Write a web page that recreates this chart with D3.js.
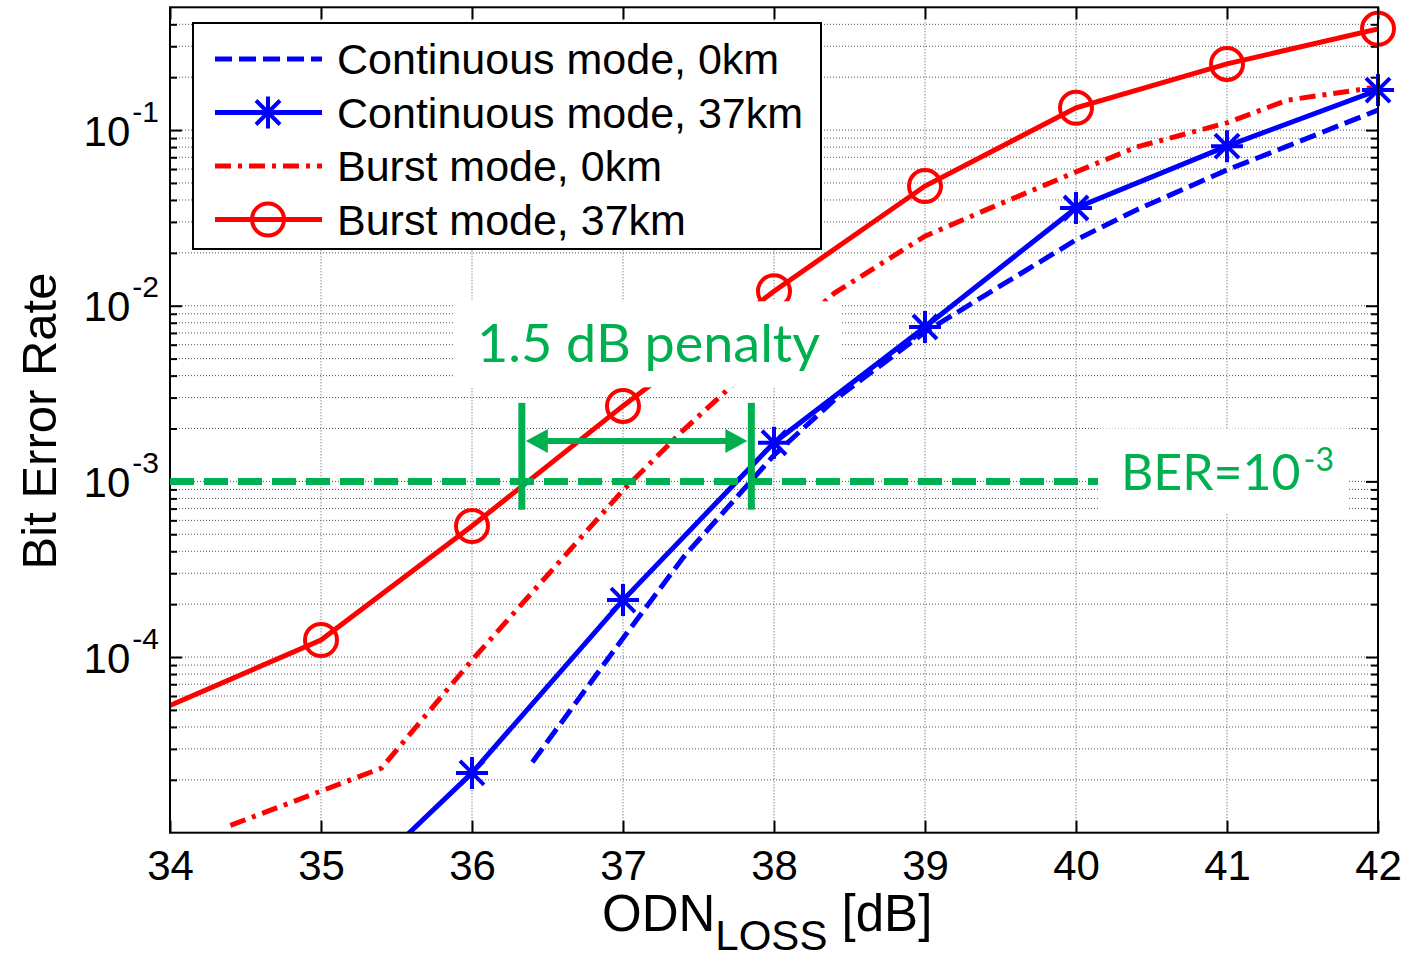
<!DOCTYPE html>
<html>
<head>
<meta charset="utf-8">
<script src="https://cdn.jsdelivr.net/npm/d3@7/dist/d3.min.js"></script>
<style>
  body { margin: 0; background: #fff; }
  svg { display: block; }
</style>
</head>
<body>
<svg id="chart" width="1407" height="961"></svg>
<script>
var contX0 = [36.4, 37, 37.4, 38, 38.4, 39, 39.4, 40, 40.4, 41, 41.4, 42];
var contY0 = [2.52e-5, 1.28e-4, 3.7e-4, 1.41e-3, 2.91e-3, 7.08e-3, 1.15e-2, 2.37e-2, 3.51e-2, 5.93e-2, 8.1e-2, 0.130];

var contX37 = [35, 36, 37, 38, 39, 40, 41, 42];
var contY37 = [3.3e-6, 2.19e-5, 2.11e-4, 1.66e-3, 7.57e-3, 0.036, 0.081, 0.169];

var burstX0 = [34.4, 35.4, 36, 36.4, 37, 37.4, 38, 38.4, 39, 39.4, 40, 40.4, 41, 41.4, 42];
var burstY0 = [1.1e-5, 2.33e-5, 9.6e-5, 2.34e-4, 8.9e-4, 1.96e-3, 5.8e-3, 1.18e-2, 2.49e-2, 3.5e-2, 5.78e-2, 8.0e-2, 0.11, 0.148, 0.176];

var burstX37 = [34, 35, 36, 37, 38, 39, 40, 41, 42];
var burstY37 = [5.3e-5, 1.25e-4, 5.57e-4, 2.69e-3, 1.21e-2, 0.048, 0.134, 0.238, 0.377];

var seriesNames = ["Continuous mode, 0km", "Continuous mode, 37km", "Burst mode, 0km", "Burst mode, 37km"];

var xTicks = [34, 35, 36, 37, 38, 39, 40, 41, 42];
var yTickExps = [-1, -2, -3, -4];

// penalty annotation (dB positions of the two bars, BER span of bars / arrow)
var penaltyX = [36.33, 37.85];
var penaltyBarY = [6.9e-4, 2.8e-3];
var penaltyArrowY = 1.7e-3;
var berLevel = 1e-3;

var W = 1407, H = 961;
var margin = { top: 7.3, right: 29, bottom: 128.3, left: 170 };
var innerW = W - margin.left - margin.right;
var innerH = H - margin.top - margin.bottom;

var GREEN = "#00B050";
var svg = d3.select("#chart");

var x = d3.scaleLinear().domain([34, 42]).range([0, innerW]);
var y = d3.scaleLog().domain([1e-5, 0.5]).range([innerH, 0]);

var g = svg.append("g").attr("transform", "translate(" + margin.left + "," + margin.top + ")");

g.append("defs").append("clipPath").attr("id", "clip")
  .append("rect").attr("width", innerW).attr("height", innerH);

// minor / major log ticks
var majorY = [], minorY = [];
for (var e = -5; e <= -1; e++) {
  for (var m = 1; m <= 9; m++) {
    var v = m * Math.pow(10, e);
    if (v <= 1e-5 || v >= 0.5) continue;
    if (m == 1) majorY.push(v); else minorY.push(v);
  }
}

// grid
var grid = g.append("g").attr("stroke", "#555").attr("stroke-width", 1).attr("stroke-dasharray", "1,2");
grid.selectAll("line.gx").data(xTicks.slice(1, -1)).enter().append("line")
  .attr("x1", d => x(d)).attr("x2", d => x(d)).attr("y1", 0).attr("y2", innerH);
grid.selectAll("line.gy").data(majorY.concat(minorY)).enter().append("line")
  .attr("x1", 0).attr("x2", innerW).attr("y1", d => y(d)).attr("y2", d => y(d));

// axes (ticks inside, box on)
var fontMain = "'Liberation Sans', Arial, sans-serif";

var xAxis = g.append("g").attr("transform", "translate(0," + innerH + ")")
  .call(d3.axisBottom(x).tickValues(xTicks).tickSize(-12).tickPadding(17).tickFormat(d3.format("d")));
g.append("g").call(d3.axisTop(x).tickValues(xTicks).tickSize(-12).tickFormat(""));

var yAxis = g.append("g").call(d3.axisLeft(y).tickValues(yTickExps.map(d => Math.pow(10, d))).tickSize(-12).tickPadding(7));
g.append("g").call(d3.axisLeft(y).tickValues(minorY).tickSize(-7).tickFormat(""));
g.append("g").attr("transform", "translate(" + innerW + ",0)")
  .call(d3.axisRight(y).tickValues(majorY).tickSize(-12).tickFormat(""));
g.append("g").attr("transform", "translate(" + innerW + ",0)")
  .call(d3.axisRight(y).tickValues(minorY).tickSize(-7).tickFormat(""));

g.selectAll(".domain").remove();
g.selectAll(".tick line").attr("stroke", "#000").attr("stroke-width", 2);

xAxis.selectAll("text").attr("font-family", fontMain).attr("font-size", 42).attr("fill", "#000");

yAxis.selectAll("text").each(function (d) {
  var t = d3.select(this);
  var ex = Math.round(Math.log10(d));
  t.text(null).attr("font-family", fontMain).attr("font-size", 42).attr("fill", "#000")
    .attr("dy", 15).attr("x", -11);
  t.append("tspan").text("10");
  t.append("tspan").attr("font-size", 30).attr("dy", -24).attr("dx", 2).text(ex);
});

// data lines
var line = d3.line().x(d => x(d[0])).y(d => y(d[1]));
var plot = g.append("g").attr("clip-path", "url(#clip)");

var series = [
  { xs: contX0, ys: contY0, color: "#0000FF", dash: "17,7", marker: null },
  { xs: contX37, ys: contY37, color: "#0000FF", dash: null, marker: "star" },
  { xs: burstX0, ys: burstY0, color: "#FF0000", dash: "16,7,4,7", marker: null },
  { xs: burstX37, ys: burstY37, color: "#FF0000", dash: null, marker: "circle" }
];

function drawMarker(sel, type, color) {
  if (type == "circle") {
    sel.append("circle").attr("r", 16).attr("fill", "none").attr("stroke", color).attr("stroke-width", 4);
  } else if (type == "star") {
    var s = 16, a = 12;
    sel.append("path")
      .attr("d", "M" + (-s) + ",0H" + s + "M0," + (-s) + "V" + s +
        "M" + (-a) + "," + (-a) + "L" + a + "," + a + "M" + (-a) + "," + a + "L" + a + "," + (-a))
      .attr("fill", "none").attr("stroke", color).attr("stroke-width", 4);
  }
}

series.forEach(function (s) {
  var pts = s.xs.map((xv, i) => [xv, s.ys[i]]);
  plot.append("path").datum(pts)
    .attr("d", line)
    .attr("fill", "none")
    .attr("stroke", s.color)
    .attr("stroke-width", 5)
    .attr("stroke-dasharray", s.dash);
  if (s.marker) {
    pts.filter(p => p[0] > 34 && p[1] >= 1e-5).forEach(function (p) {
      var mg = g.append("g").attr("transform", "translate(" + x(p[0]) + "," + y(p[1]) + ")");
      drawMarker(mg, s.marker, s.color);
    });
  }
});

// plot frame
g.append("rect").attr("width", innerW).attr("height", innerH)
  .attr("fill", "none").attr("stroke", "#000").attr("stroke-width", 2);

// legend
var leg = svg.append("g").attr("transform", "translate(193,23)");
leg.append("rect").attr("width", 628).attr("height", 226)
  .attr("fill", "#fff").attr("stroke", "#000").attr("stroke-width", 2);
series.forEach(function (s, i) {
  var cy = 36 + i * 53.5;
  var row = leg.append("g").attr("transform", "translate(0," + cy + ")");
  row.append("line").attr("x1", 22).attr("x2", 129).attr("y1", 0).attr("y2", 0)
    .attr("stroke", s.color).attr("stroke-width", 5).attr("stroke-dasharray", s.dash);
  if (s.marker) drawMarker(row.append("g").attr("transform", "translate(75,0)"), s.marker, s.color);
  row.append("text").attr("x", 144).attr("y", 15)
    .attr("font-family", fontMain).attr("font-size", 43).attr("fill", "#000")
    .text(seriesNames[i]);
});

// BER = 1e-3 reference and penalty annotation
var fontNote = "Lato, 'Open Sans', sans-serif";
var ann = g.append("g");

ann.append("line").attr("x1", 0).attr("x2", 928).attr("y1", y(berLevel)).attr("y2", y(berLevel))
  .attr("stroke", GREEN).attr("stroke-width", 7).attr("stroke-dasharray", "24,10");

ann.append("rect").attr("x", 283).attr("y", 294).attr("width", 389).attr("height", 86).attr("fill", "#fff");
ann.append("text").attr("x", 477 - margin.left).attr("y", 362 - margin.top)
  .attr("font-family", fontNote).attr("font-size", 52).attr("fill", GREEN)
  .attr("textLength", 343).attr("lengthAdjust", "spacingAndGlyphs")
  .text("1.5 dB penalty");

ann.append("rect").attr("x", 928).attr("y", 421).attr("width", 249).attr("height", 85).attr("fill", "#fff");
var ber = ann.append("text").attr("x", 1121 - margin.left).attr("y", 490 - margin.top)
  .attr("font-family", fontNote).attr("font-size", 50).attr("fill", GREEN);
ber.append("tspan").text("BER=10");
ber.append("tspan").attr("font-size", 32).attr("dy", -19).attr("dx", 3).text("-3");

penaltyX.forEach(function (px) {
  ann.append("line").attr("x1", x(px)).attr("x2", x(px))
    .attr("y1", y(penaltyBarY[0])).attr("y2", y(penaltyBarY[1]))
    .attr("stroke", GREEN).attr("stroke-width", 7);
});

var ax0 = x(penaltyX[0]) + 4, ax1 = x(penaltyX[1]) - 4, ay = y(penaltyArrowY);
ann.append("line").attr("x1", ax0 + 10).attr("x2", ax1 - 10).attr("y1", ay).attr("y2", ay)
  .attr("stroke", GREEN).attr("stroke-width", 6);
ann.append("path").attr("d", "M" + ax0 + "," + ay + "L" + (ax0 + 22) + "," + (ay - 12) + "L" + (ax0 + 22) + "," + (ay + 12) + "Z")
  .attr("fill", GREEN);
ann.append("path").attr("d", "M" + ax1 + "," + ay + "L" + (ax1 - 22) + "," + (ay - 12) + "L" + (ax1 - 22) + "," + (ay + 12) + "Z")
  .attr("fill", GREEN);

// axis titles
svg.append("text")
  .attr("transform", "translate(56,421) rotate(-90)")
  .attr("text-anchor", "middle")
  .attr("font-family", fontMain).attr("font-size", 49).attr("fill", "#000")
  .text("Bit Error Rate");

var xl = svg.append("text").attr("x", 602).attr("y", 931)
  .attr("font-family", fontMain).attr("font-size", 51).attr("fill", "#000");
xl.append("tspan").text("ODN");
xl.append("tspan").attr("font-size", 42).attr("dy", 19).text("LOSS");
xl.append("tspan").attr("dy", -19).text(" [dB]");
</script>
</body>
</html>
